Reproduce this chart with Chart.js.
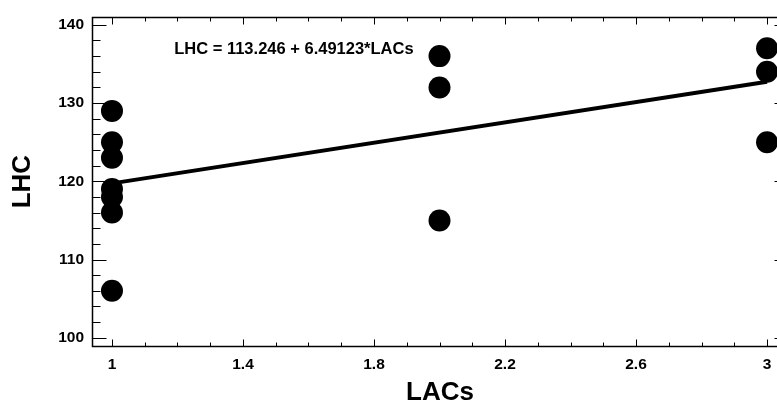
<!DOCTYPE html>
<html>
<head>
<meta charset="utf-8">
<script src="https://cdn.jsdelivr.net/npm/chart.js@4"></script>
<style>
  html, body { margin: 0; padding: 0; background: #fff; overflow: hidden; }
  #wrap { position: relative; width: 800px; height: 408px; }
</style>
</head>
<body>
<div id="wrap"><canvas id="myChart" width="800" height="408"></canvas></div>
<script>
// observations
const lacs = [1, 1, 1, 1, 1, 1, 1, 2, 2, 2, 3, 3, 3];
const lhc = [129, 125, 123, 119, 118, 116, 106, 136, 132, 115, 137, 134, 125];

// fitted model
const intercept = 113.246;
const slope = 6.49123;

const xTicks = [1, 1.4, 1.8, 2.2, 2.6, 3];
const yTicks = [100, 110, 120, 130, 140];

const FONT = '"Liberation Sans", Arial, sans-serif';

const fitLine = [1, 3].map(v => ({ x: v, y: intercept + slope * v }));

// box round the plot with inward tick marks on every side, plus the equation
const frame = {
  id: 'frame',
  afterDatasetsDraw(chart) {
    const { ctx, chartArea: a, scales: { x, y } } = chart;
    const L = Math.round(a.left) + 0.5, R = Math.round(a.right) + 0.5;
    const T = Math.round(a.top) + 0.5, B = Math.round(a.bottom) + 0.5;
    ctx.save();
    ctx.strokeStyle = '#000';
    ctx.lineWidth = 1;
    ctx.beginPath();
    for (let v = 100; v <= 140; v += 2) {
      const py = Math.round(y.getPixelForValue(v)) + 0.5;
      const len = v % 10 === 0 ? 14 : 8;
      ctx.moveTo(L, py); ctx.lineTo(L + len, py);
      ctx.moveTo(R, py); ctx.lineTo(R - len, py);
    }
    for (let i = 10; i <= 30; i++) {
      const px = Math.round(x.getPixelForValue(i / 10)) + 0.5;
      const len = (i - 10) % 4 === 0 ? 7 : 4;
      ctx.moveTo(px, B); ctx.lineTo(px, B - len);
      ctx.moveTo(px, T); ctx.lineTo(px, T + len);
    }
    ctx.stroke();
    ctx.lineWidth = 1.5;
    ctx.strokeRect(L, T, R - L, B - T);

    ctx.fillStyle = '#000';
    ctx.font = 'bold 16.5px ' + FONT;
    ctx.textAlign = 'left';
    ctx.textBaseline = 'middle';
    ctx.fillText('LHC = ' + intercept + ' + ' + slope + '*LACs',
      x.getPixelForValue(1.19), y.getPixelForValue(136.9));
    ctx.restore();
  }
};

const ctx = document.getElementById('myChart');

new Chart(ctx, {
  type: 'scatter',
  data: {
    datasets: [{
      data: lacs.map((v, i) => ({ x: v, y: lhc[i] })),
      backgroundColor: '#000',
      borderWidth: 0,
      pointRadius: 11,
      pointHoverRadius: 11
    }, {
      type: 'line',
      data: fitLine,
      borderColor: '#000',
      borderWidth: 4,
      pointRadius: 0,
      showLine: true,
      fill: false
    }]
  },
  options: {
    responsive: false,
    animation: false,
    events: [],
    layout: { padding: { left: 0, top: 8, right: 12, bottom: 0 } },
    plugins: { legend: { display: false }, tooltip: { enabled: false } },
    scales: {
      x: {
        type: 'linear',
        min: 0.939,
        max: 3.064,
        afterBuildTicks: s => { s.ticks = xTicks.map(v => ({ value: v })); },
        afterFit: s => { s.height = 62; },
        grid: { display: false, drawTicks: false },
        border: { display: false },
        ticks: {
          autoSkip: false,
          maxRotation: 0,
          padding: 9,
          color: '#000',
          font: { family: FONT, size: 15.5, weight: 'bold' },
          callback: v => String(v)
        },
        title: {
          display: true,
          text: 'LACs',
          color: '#000',
          padding: 0,
          font: { family: FONT, size: 26, weight: 'bold' }
        }
      },
      y: {
        min: 98.95,
        max: 140.96,
        afterBuildTicks: s => { s.ticks = yTicks.map(v => ({ value: v })); },
        afterFit: s => { s.width = 92; },
        grid: { display: false, drawTicks: false },
        border: { display: false },
        ticks: {
          autoSkip: false,
          padding: 8,
          color: '#000',
          font: { family: FONT, size: 15.5, weight: 'bold' },
          callback: v => String(v)
        },
        title: {
          display: true,
          text: 'LHC',
          color: '#000',
          padding: { top: 7, bottom: 0 },
          font: { family: FONT, size: 26, weight: 'bold' }
        }
      }
    }
  },
  plugins: [frame]
});
</script>
</body>
</html>
